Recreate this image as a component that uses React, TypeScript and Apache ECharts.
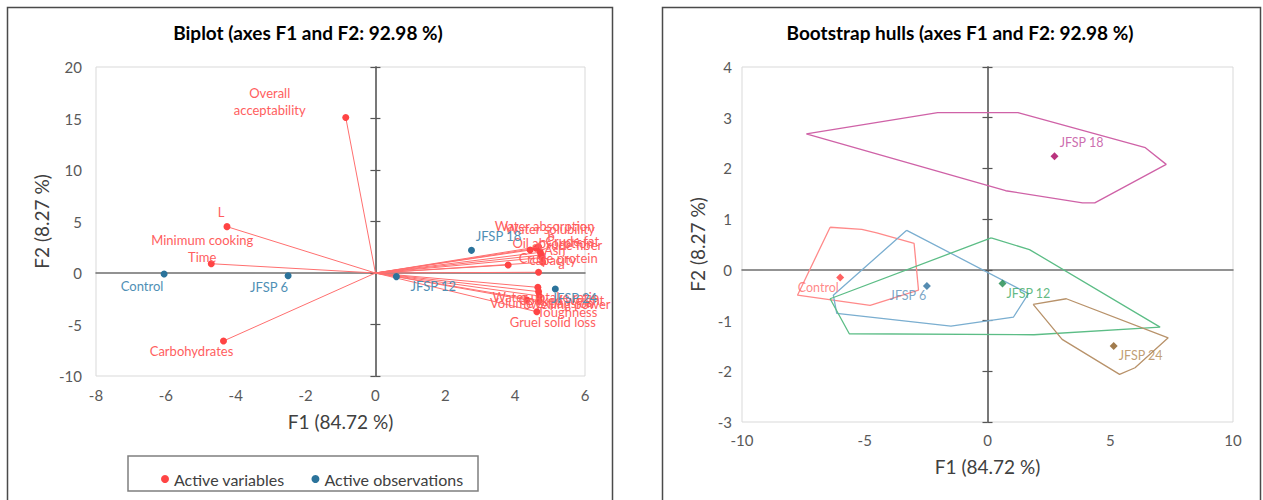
import React, { useEffect, useRef } from 'react';
import * as echarts from 'echarts';

// ---------- Biplot data ----------
const varNames = [
  'Overall\nacceptability', 'L', 'Minimum cooking\nTime', 'Carbohydrates',
  'Water absorption', 'Water solubility', 'b', 'Crude fat', 'Oil absorption\ncapacity',
  'Crude fiber', 'Ash', 'Crude protein', 'a',
  'Water uptake ratio', 'Cooked weight', 'Swelling power', 'Volume expansion', 'Toughness', 'Gruel solid loss',
];
const varF1 = [-0.85, -4.25, -4.7, -4.35, 4.67, 4.6, 4.43, 4.72, 4.74, 4.77, 4.79, 3.8, 4.67, 4.65, 4.67, 4.69, 4.34, 4.69, 4.62];
const varF2 = [15.1, 4.5, 0.9, -6.6, 2.55, 2.4, 2.23, 2.01, 1.75, 1.5, 1.04, 0.78, 0.07, -1.39, -1.81, -2.23, -2.62, -2.69, -3.76];

const obsNames = ['Control', 'JFSP 6', 'JFSP 12', 'JFSP 18', 'JFSP 24'];
const obsF1 = [-6.05, -2.5, 0.6, 2.75, 5.15];
const obsF2 = [-0.1, -0.26, -0.35, 2.2, -1.55];

const biplotXTicks = { min: -8, max: 6, interval: 2 };
const biplotYTicks = { min: -10, max: 20, interval: 5 };

// ---------- Bootstrap hulls data ----------
const hullControl = [[-6.41, 0.84], [-5.12, 0.8], [-4.51, 0.73], [-2.99, 0.52], [-2.81, -0.4], [-4.78, -0.7], [-7.74, -0.5], [-6.41, 0.84]];
const hullJ6 = [[-3.29, 0.78], [1.67, -0.47], [1.06, -0.93], [-1.49, -1.11], [-6.14, -0.86], [-6.28, -0.5], [-3.29, 0.78]];
const hullJ12 = [[0.15, 0.63], [1.71, 0.4], [7.03, -1.13], [1.89, -1.28], [-5.63, -1.26], [-6.41, -0.57], [0.15, 0.63]];
const hullJ18 = [[-7.38, 2.68], [-2.03, 3.1], [1.24, 3.1], [6.43, 2.41], [7.28, 2.08], [4.37, 1.32], [3.87, 1.32], [0.74, 1.56], [-7.38, 2.68]];
const hullJ24 = [[1.86, -0.68], [3.21, -0.57], [7.36, -1.34], [6.01, -1.93], [5.38, -2.06], [3.04, -1.37], [1.86, -0.68]];
const bootNames = ['Control', 'JFSP 6', 'JFSP 12', 'JFSP 18', 'JFSP 24'];
const bootF1 = [-6.0, -2.47, 0.61, 2.73, 5.14];
const bootF2 = [-0.15, -0.32, -0.27, 2.24, -1.5];

const hullXTicks = { min: -10, max: 10, interval: 5 };
const hullYTicks = { min: -3, max: 4, interval: 1 };

// ---------- styles / layout ----------
const FONT = 'Lato, "Open Sans", sans-serif';
const varLabelOffset: Record<string, [number, number]> = {
  'Overall\nacceptability': [-76, -16],
  'L': [-6, -15],
  'Minimum cooking\nTime': [-9, -15],
  'Carbohydrates': [-32, 10],
  'Water absorption': [6, -21],
  'Water solubility': [14, -19],
  'b': [21, -14],
  'Crude fat': [32, -11],
  'Oil absorption\ncapacity': [12, -3],
  'Crude fiber': [28, -13],
  'Ash': [12, -12],
  'Crude protein': [50, -7],
  'a': [23, -8],
  'Water uptake ratio': [8, 10],
  'Cooked weight': [23, 8],
  'Swelling power': [28, 8],
  'Volume expansion': [15, 3],
  'Toughness': [28, 11],
  'Gruel solid loss': [16, 10],
};
const obsLabelOffset: Record<string, [number, number]> = {
  'Control': [-22, 12],
  'JFSP 6': [-19, 11],
  'JFSP 12': [37, 9],
  'JFSP 18': [27, -14],
  'JFSP 24': [19, 9],
};
const bootLabelOffset: Record<string, [number, number]> = {
  'Control': [-22, 10],
  'JFSP 6': [-19, 9],
  'JFSP 12': [26, 10],
  'JFSP 18': [27, -14],
  'JFSP 24': [27, 10],
};
const bootColors = [
  { line: '#ff8a8a', point: '#ff3b3b', label: '#ff6a6a' },
  { line: '#7aaed0', point: '#2a6f9e', label: '#5a8fb8' },
  { line: '#5cbd86', point: '#1e8a4c', label: '#3aa864' },
  { line: '#cf62a7', point: '#a8005e', label: '#c0479a' },
  { line: '#b8926a', point: '#8a5a20', label: '#b08650' },
];
const hulls = [hullControl, hullJ6, hullJ12, hullJ18, hullJ24];

function axesFor(gridIndex: number, xt: any, yt: any, o: any) {
  const common = { type: 'value', gridIndex, splitLine: { show: false } };
  const xAxes = [
    {
      ...common, ...xt, position: 'bottom',
      axisLine: { show: false, onZero: false }, axisTick: { show: false },
      axisLabel: { color: '#595959', fontSize: 15, margin: o.xMargin, fontFamily: FONT },
      name: 'F1 (84.72 %)', nameLocation: 'middle', nameGap: o.xNameGap,
      nameTextStyle: { fontSize: 19, color: '#404040', fontFamily: FONT },
    },
    {
      ...common, ...xt,
      axisLine: { show: true, onZero: true, lineStyle: { color: '#6f6f6f', width: 1.5 } },
      axisTick: { show: false }, axisLabel: { show: false },
    },
  ];
  const yAxes = [
    {
      ...common, ...yt, position: 'left',
      axisLine: { show: false, onZero: false }, axisTick: { show: false },
      axisLabel: { color: '#595959', fontSize: 15, margin: o.yMargin, fontFamily: FONT },
      name: 'F2 (8.27 %)', nameLocation: 'middle', nameGap: o.yNameGap,
      nameTextStyle: { fontSize: 19, color: '#404040', fontFamily: FONT },
    },
    {
      ...common, ...yt,
      axisLine: { show: true, onZero: true, lineStyle: { color: '#6f6f6f', width: 1.5 } },
      axisTick: { show: true, inside: true, length: 5, lineStyle: { color: '#555', width: 1.2 } },
      axisLabel: { show: false },
    },
    {
      ...common, ...yt,
      axisLine: { show: true, onZero: true, lineStyle: { color: '#6f6f6f', width: 1.5 } },
      axisTick: { show: true, inside: false, length: 5, lineStyle: { color: '#555', width: 1.2 } },
      axisLabel: { show: false },
    },
  ];
  return { xAxes, yAxes };
}

function buildOption() {
  const left = axesFor(0, biplotXTicks, biplotYTicks, { xMargin: 11, yMargin: 14, xNameGap: 36, yNameGap: 45 });
  const right = axesFor(1, hullXTicks, hullYTicks, { xMargin: 10, yMargin: 10, xNameGap: 35, yNameGap: 35 });

  const series: any[] = [];
  series.push({
    type: 'lines', coordinateSystem: 'cartesian2d', xAxisIndex: 0, yAxisIndex: 0, silent: true, z: 2,
    lineStyle: { color: '#ff6f6f', width: 1, opacity: 1 },
    data: varF1.map((x, i) => ({ coords: [[0, 0], [x, varF2[i]]] })),
  });
  series.push({
    name: 'Active variables', type: 'scatter', xAxisIndex: 0, yAxisIndex: 0, z: 4,
    symbolSize: 7, itemStyle: { color: '#ff4444', opacity: 1 },
    label: { show: true, position: 'inside', formatter: '{b}', color: '#ff5e5e', fontSize: 13, lineHeight: 17, fontFamily: FONT },
    data: varNames.map((n, i) => ({ name: n, value: [varF1[i], varF2[i]], label: { offset: varLabelOffset[n] } })),
  });
  series.push({
    name: 'Active observations', type: 'scatter', xAxisIndex: 0, yAxisIndex: 0, z: 5,
    symbolSize: 7, itemStyle: { color: '#2b739b', opacity: 1 },
    label: { show: true, position: 'inside', formatter: '{b}', color: '#4f8fb5', fontSize: 13, fontFamily: FONT },
    data: obsNames.map((n, i) => ({ name: n, value: [obsF1[i], obsF2[i]], label: { offset: obsLabelOffset[n] } })),
  });

  hulls.forEach((h, i) => {
    series.push({
      type: 'line', xAxisIndex: 2, yAxisIndex: 3, silent: true, showSymbol: false, symbol: 'none', z: 3,
      lineStyle: { color: bootColors[i].line, width: 1.3 }, data: h,
    });
  });
  bootNames.forEach((n, i) => {
    series.push({
      type: 'scatter', xAxisIndex: 2, yAxisIndex: 3, symbol: 'diamond', symbolSize: 8, z: 5,
      itemStyle: { color: bootColors[i].point },
      label: { show: true, position: 'inside', formatter: '{b}', color: bootColors[i].label, fontSize: 12.5, fontFamily: FONT, offset: bootLabelOffset[n] },
      data: [{ name: n, value: [bootF1[i], bootF2[i]] }],
    });
  });

  return {
    animation: false,
    textStyle: { fontFamily: FONT },
    grid: [
      { left: 96, top: 67, width: 489, height: 309, show: true, borderColor: '#d9d9d9', borderWidth: 1 },
      { left: 742, top: 67, width: 491, height: 355, show: true, borderColor: '#d9d9d9', borderWidth: 1 },
    ],
    xAxis: [...left.xAxes, ...right.xAxes],
    yAxis: [...left.yAxes, ...right.yAxes],
    legend: {
      data: ['Active variables', 'Active observations'],
      left: 156, top: 466, icon: 'circle', itemWidth: 8, itemHeight: 8, itemGap: 27,
      textStyle: { fontSize: 16, color: '#404040', fontFamily: FONT },
    },
    graphic: [
      { type: 'rect', silent: true, z: -1, shape: { x: 7.5, y: 7.5, width: 605, height: 500 }, style: { fill: 'none', stroke: '#4a4a4a', lineWidth: 1.5 } },
      { type: 'rect', silent: true, z: -1, shape: { x: 662.5, y: 7.5, width: 598, height: 500 }, style: { fill: 'none', stroke: '#4a4a4a', lineWidth: 1.5 } },
      { type: 'rect', silent: true, z: -1, shape: { x: 128, y: 456, width: 350, height: 35 }, style: { fill: 'none', stroke: '#7f7f7f', lineWidth: 1.5 } },
      { type: 'text', x: 308, y: 32, style: { text: 'Biplot (axes F1 and F2: 92.98 %)', fill: '#000', font: `bold 19px ${FONT}`, textAlign: 'center', textVerticalAlign: 'middle' } },
      { type: 'text', x: 960, y: 32, style: { text: 'Bootstrap hulls (axes F1 and F2: 92.98 %)', fill: '#000', font: `bold 19px ${FONT}`, textAlign: 'center', textVerticalAlign: 'middle' } },
    ],
    series,
  };
}

export default function App() {
  const ref = useRef<HTMLDivElement>(null);
  useEffect(() => {
    const chart = echarts.init(ref.current!, null, { renderer: 'svg' });
    chart.setOption(buildOption() as any);
    return () => chart.dispose();
  }, []);
  return <div ref={ref} style={{ position: 'fixed', left: 0, top: 0, width: 1263, height: 500, background: '#fff' }} />;
}
